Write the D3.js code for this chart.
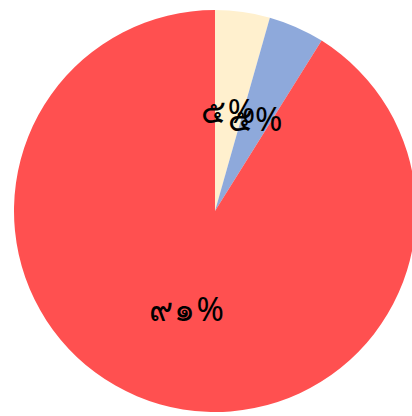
<!DOCTYPE html>
<html><head><meta charset="utf-8">
<script src="https://cdn.jsdelivr.net/npm/d3@7"></script>
<style>html,body{margin:0;padding:0;background:#fff;}</style>
</head><body>
<svg id="c" width="412" height="416"></svg>
<script>
const categories = ["A", "B", "C"];
const values = [4.4, 4.5, 91.1];
const labels = ["๕%", "๕%", "๙๑%"];
const colors = ["#FFF0CE", "#8EA9DB", "#FF5050"];

const svg = d3.select("#c");
const cx = 215, cy = 211, R = 201;
const g = svg.append("g").attr("transform", `translate(${cx},${cy})`);
const pie = d3.pie().sort(null).value(d => d.v);
const data = pie(categories.map((c, i) => ({c, v: values[i], l: labels[i], col: colors[i]})));
const arc = d3.arc().innerRadius(0).outerRadius(R);
const labelArc = d3.arc().innerRadius(R * 0.505).outerRadius(R * 0.505);
g.selectAll("path").data(data).enter().append("path")
  .attr("d", arc).attr("fill", d => d.data.col);
g.selectAll("text").data(data).enter().append("text")
  .attr("transform", d => `translate(${labelArc.centroid(d)})`)
  .attr("text-anchor", "middle").attr("dominant-baseline", "central")
  .style("font-family", "'Noto Sans', 'DejaVu Sans', sans-serif")
  .style("font-size", "33px").style("letter-spacing", "1.5px").attr("fill", "#000")
  .text(d => d.data.l);
</script>
</body></html>
